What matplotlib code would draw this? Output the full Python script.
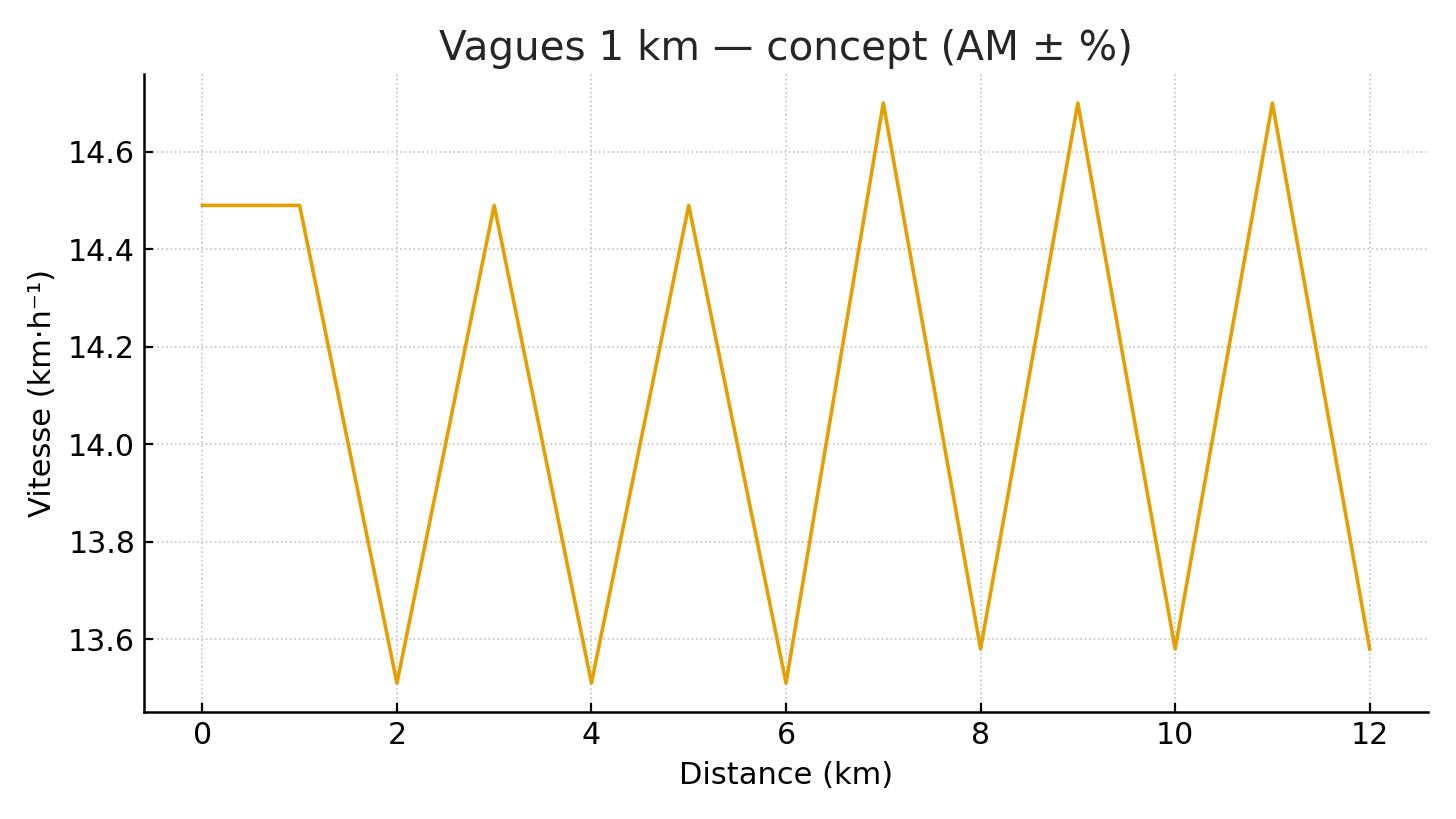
import matplotlib
matplotlib.use("Agg")
import matplotlib.pyplot as plt

# distance markers (km) and speed per km
distance_km = [0, 1, 2, 3, 4, 5, 6, 7, 8, 9, 10, 11, 12]
vitesse = [14.49, 14.49, 13.51, 14.49, 13.51, 14.49, 13.51,
           14.70, 13.58, 14.70, 13.58, 14.70, 13.58]

x_ticks = [0, 2, 4, 6, 8, 10, 12]
y_ticks = [13.6, 13.8, 14.0, 14.2, 14.4, 14.6]

fig = plt.figure(figsize=(7.28, 4.095), dpi=200)
ax = fig.add_axes([0.0989, 0.1306, 0.8819, 0.779])

ax.plot(distance_km, vitesse, color="#E69F00", linewidth=1.3)

ax.set_xticks(x_ticks)
ax.set_yticks(y_ticks)
ax.set_yticklabels([f"{v:.1f}" for v in y_ticks])
# ticks point inwards in the original
ax.tick_params(direction="in", labelsize=10.8, width=0.8, length=3.3, pad=3.2, colors="black")

ax.grid(True, linestyle=":", linewidth=0.6, color="#c4c4c4")
ax.spines["top"].set_visible(False)
ax.spines["right"].set_visible(False)
ax.spines["left"].set_linewidth(0.9)
ax.spines["bottom"].set_linewidth(0.9)

ax.set_title("Vagues 1 km — concept (AM ± %)", fontsize=14.6, color="#262626", pad=5)
ax.set_xlabel("Distance (km)", fontsize=11.0, labelpad=4)
ax.set_ylabel("Vitesse (km·h⁻¹)", fontsize=11.0, labelpad=4)

fig.savefig("out.png", dpi=200)
